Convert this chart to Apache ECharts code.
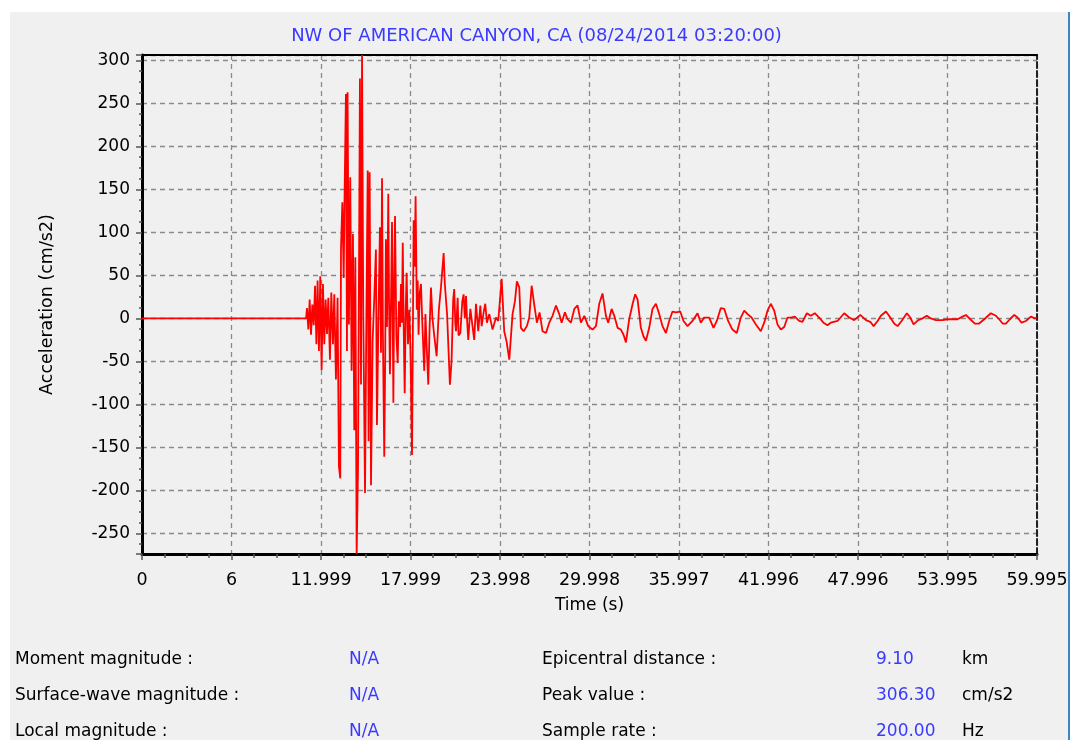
<!DOCTYPE html>
<html>
<head>
<meta charset="utf-8">
<title>NW OF AMERICAN CANYON, CA</title>
<script src="https://cdn.jsdelivr.net/npm/echarts@6/dist/echarts.min.js"></script>
<style>
  html, body { margin: 0; padding: 0; background: #fff; }
  .panel {
    position: absolute; left: 10px; top: 12px;
    width: 1058px; height: 728px;
    background: #f0f0f0;
    border-right: 2px solid #3d85c6;
  }
  #chart { position: absolute; left: 0; top: 0; width: 1073px; height: 740px; }
</style>
</head>
<body>
<div class="panel"></div>
<div id="chart"></div>
<script>
// tick labels of the time axis, as printed
const timeTickLabels = ['0', '6', '11.999', '17.999', '23.998', '29.998',
  '35.997', '41.996', '47.996', '53.995', '59.995'];

// record: pre-event + strong shaking (s, cm/s2)
const timeStrong = [0, 11.0, 11.06, 11.15, 11.24, 11.33, 11.42, 11.51, 11.60, 11.69,
  11.77, 11.86, 11.95, 12.04, 12.13, 12.22, 12.31, 12.40, 12.49, 12.60,
  12.69, 12.80, 12.89, 13.00, 13.11, 13.20, 13.29, 13.34, 13.43, 13.52,
  13.58, 13.67, 13.74, 13.78, 13.87, 13.96, 14.05, 14.14, 14.23, 14.30,
  14.39, 14.48, 14.61, 14.68, 14.75, 14.83, 14.95, 15.04, 15.13, 15.19,
  15.26, 15.35, 15.46, 15.57];
const accStrong = [0, 0, 12, -13, 22, -19, 16, -8, 38, -30,
  44, -38, 49, -60, 40, -30, 22, -18, 24, -48,
  30, -30, 28, -71, 24, -172, -186, 82, 135, 47,
  145, 261, -38, 263, -7, 164, -61, 98, -130, 71,
  -274, -174, 279, -77, 306.3, 12, -203, 1, 172, -143,
  170, -194, -26, 24];

// late S-wave part
const timeLate = [15.68, 15.75, 15.84, 15.95, 16.02, 16.09, 16.15, 16.24, 16.30, 16.35,
  16.42, 16.51, 16.56, 16.62, 16.70, 16.76, 16.85, 16.90, 16.96, 17.05,
  17.14, 17.22, 17.30, 17.36, 17.42, 17.48, 17.55, 17.61, 17.68, 17.74,
  17.83, 17.92, 18.00, 18.10, 18.21, 18.28, 18.34, 18.42, 18.48, 18.54,
  18.62, 18.70, 18.80, 18.92, 19.00, 19.10, 19.19, 19.28, 19.37, 19.47,
  19.59, 19.75, 19.90, 20.04, 20.22, 20.30, 20.45, 20.64, 20.75];
const accLate = [80, -124, -10, 106, -40, 163, -20, -161, -50, 92,
  -10, 145, 20, -65, 30, 112, -98, 30, 119, -20,
  -52, 20, -10, 40, -5, 88, -20, -87, 10, 53,
  -30, 10, -40, -159, 114, 60, 142, 10, 44, -19,
  30, 40, -10, -61, 5, -40, -77, -10, 36, 0,
  -20, -44, 10, 36, 76, 40, 5, -77, -50];

// coda
const timeCoda = [20.86, 20.93, 21.00, 21.05, 21.16, 21.22, 21.34, 21.47, 21.56, 21.64,
  21.72, 21.78, 21.87, 22.01, 22.10, 22.17, 22.27, 22.39, 22.54, 22.68,
  22.77, 22.83, 22.90, 23.01, 23.12, 23.17, 23.28, 23.39, 23.50, 23.57,
  23.73, 23.88, 24.11, 24.28, 24.44, 24.62, 24.84, 25.00, 25.13, 25.29,
  25.40, 25.58, 25.80, 25.96, 26.12, 26.30, 26.47, 26.65, 26.85, 27.08,
  27.30, 27.52, 27.75, 27.97, 28.13, 28.35, 28.53, 28.75, 28.98, 29.20,
  29.42, 29.65, 29.91, 30.20, 30.43, 30.65, 30.87, 31.10, 31.25, 31.48,
  31.66, 31.88, 32.10, 32.28, 32.44, 32.66, 32.89, 33.06, 33.22];
const accCoda = [22, 34, -5, -15, 24, -20, -17, 20, 28, 0,
  26, 1, -25, 11, 11, -11, -25, 17, -15, 15,
  -9, -9, 7, 17, -5, -3, 5, 3, -13, -13,
  1, -3, 46, -15, -27, -48, 5, 20, 43, 36,
  -11, -15, -9, 1, 38, 15, -5, 7, -15, -17,
  -5, 3, 15, 5, -5, 7, -1, -5, 11, 15,
  -5, 3, -9, -13, -9, 17, 29, 3, -5, 11,
  3, -11, -13, -19, -28, -1, 17, 28, 22];

// surface waves
const timeSurface = [33.44, 33.62, 33.78, 34.00, 34.22, 34.45, 34.67, 34.89, 35.12, 35.34,
  35.56, 35.79, 36.08, 36.30, 36.57, 36.90, 37.24, 37.46, 37.68, 38.02,
  38.31, 38.53, 38.80, 39.03, 39.29, 39.58, 39.87, 40.14, 40.37, 40.59,
  40.86, 41.15, 41.48, 41.71, 41.93, 42.15, 42.38, 42.60, 42.82, 43.05,
  43.27, 43.49, 43.76, 44.05, 44.27, 44.57, 44.83, 45.10, 45.39, 45.68,
  45.95, 46.17];
const accSurface = [-11, -21, -26, -11, 11, 17, 5, -9, -17, -3,
  8, 7, 8, -3, -9, -3, 6, -5, 1, 1,
  -11, -3, 12, 11, -3, -13, -17, 1, 9, 5,
  1, -7, -15, -5, 9, 17, 9, -7, -13, -10,
  1, 1, 2, -3, -4, 6, 3, 6, 1, -5,
  -8, -5];

// tail
const timeTail = [46.63, 47.07, 47.41, 47.74, 48.15, 48.53, 48.82, 49.04, 49.31, 49.53,
  49.87, 50.16, 50.42, 50.65, 50.92, 51.27, 51.50, 51.72, 52.03, 52.32,
  52.61, 52.88, 53.22, 53.66, 54.00, 54.33, 54.67, 55.00, 55.23, 55.52,
  55.83, 56.12, 56.46, 56.90, 57.24, 57.46, 57.69, 57.91, 58.18, 58.47,
  58.69, 58.96, 59.25, 59.58, 59.85, 59.995];
const accTail = [-3, 6, 1, -2, 4, -2, -4, -9, -3, 3,
  8, 1, -6, -9, -3, 6, 1, -7, -2, 0,
  3, 0, -2, -2, -1, -1, -1, 2, 4, -1,
  -6, -6, -1, 6, 3, -1, -6, -6, -1, 4,
  1, -5, -3, 2, 0, 1];

// station info block under the plot
const infoLeftLabels = ['Moment magnitude :', 'Surface-wave magnitude :', 'Local magnitude :'];
const infoLeftValues = ['N/A', 'N/A', 'N/A'];
const infoRightLabels = ['Epicentral distance :', 'Peak value :', 'Sample rate :'];
const infoRightValues = ['9.10', '306.30', '200.00'];
const infoRightUnits = ['km', 'cm/s2', 'Hz'];

const FONT = '"DejaVu Sans", Verdana, sans-serif';
const BLUE = '#3a3aff';

function pairs(ts, vs) {
  return ts.map((t, i) => [t, vs[i]]);
}
const record = [].concat(
  pairs(timeStrong, accStrong),
  pairs(timeLate, accLate),
  pairs(timeCoda, accCoda),
  pairs(timeSurface, accSurface),
  pairs(timeTail, accTail)
);

const rowY = [658, 694, 730];
const info = [];
rowY.forEach((y, i) => {
  const base = { font: '17px ' + FONT, verticalAlign: 'middle' };
  const top = y - 7;
  info.push({ type: 'text', left: 15, top: top, style: Object.assign({ text: infoLeftLabels[i], fill: '#000' }, base) });
  info.push({ type: 'text', left: 349, top: top, style: Object.assign({ text: infoLeftValues[i], fill: BLUE }, base) });
  info.push({ type: 'text', left: 542, top: top, style: Object.assign({ text: infoRightLabels[i], fill: '#000' }, base) });
  info.push({ type: 'text', left: 876, top: top, style: Object.assign({ text: infoRightValues[i], fill: BLUE }, base) });
  info.push({ type: 'text', left: 962, top: top, style: Object.assign({ text: infoRightUnits[i], fill: '#000' }, base) });
});

const chart = echarts.init(document.getElementById('chart'), null, { renderer: 'canvas' });

const gridLine = { show: true, lineStyle: { color: '#8a8a8a', width: 1.3, type: [5, 4] } };

chart.setOption({
  backgroundColor: 'transparent',
  animation: false,
  textStyle: { fontFamily: FONT },
  title: {
    text: 'NW OF AMERICAN CANYON, CA (08/24/2014 03:20:00)',
    left: 'center',
    top: 22,
    textStyle: { color: BLUE, fontSize: 18, fontWeight: 'normal', fontFamily: FONT }
  },
  grid: { left: 142, right: 36, top: 55, bottom: 186 },
  xAxis: [{
    type: 'value',
    min: 0,
    max: 59.995,
    interval: 5.9995,
    name: 'Time (s)',
    nameLocation: 'middle',
    nameGap: 43,
    nameTextStyle: { color: '#000', fontSize: 17, fontFamily: FONT },
    axisLine: { show: true, onZero: false, lineStyle: { color: '#000', width: 3 } },
    axisTick: { show: true, length: 6, lineStyle: { color: '#555', width: 1.5 } },
    minorTick: { show: true, splitNumber: 4, length: 4, lineStyle: { color: '#555', width: 1.5 } },
    axisLabel: {
      margin: 17,
      color: '#000',
      fontSize: 17.5,
      fontFamily: FONT,
      formatter: v => timeTickLabels[Math.round(v / 5.9995)]
    },
    splitLine: gridLine
  }, {
    type: 'value',
    position: 'top',
    min: 0,
    max: 59.995,
    axisLine: { show: true, onZero: false, lineStyle: { color: '#000', width: 2 } },
    axisTick: { show: false },
    axisLabel: { show: false },
    splitLine: { show: false }
  }],
  yAxis: [{
    type: 'value',
    min: -274,
    max: 306.3,
    splitNumber: 12,
    minInterval: 50,
    maxInterval: 50,
    name: 'Acceleration (cm/s2)',
    nameLocation: 'middle',
    nameGap: 86,
    nameTextStyle: { color: '#000', fontSize: 17.5, fontFamily: FONT },
    axisLine: { show: true, onZero: false, lineStyle: { color: '#000', width: 3 } },
    axisTick: { show: true, length: 6, lineStyle: { color: '#555', width: 1.5 } },
    minorTick: { show: true, splitNumber: 4, length: 3, lineStyle: { color: '#555', width: 1.5 } },
    axisLabel: {
      margin: 12,
      color: '#000',
      fontSize: 17,
      fontFamily: FONT,
      showMinLabel: false,
      showMaxLabel: false
    },
    splitLine: gridLine
  }, {
    type: 'value',
    position: 'right',
    min: -274,
    max: 306.3,
    axisLine: { show: true, onZero: false, lineStyle: { color: '#222', width: 2, type: [6, 3] } },
    axisTick: { show: false },
    axisLabel: { show: false },
    splitLine: { show: false }
  }],
  series: [{
    type: 'line',
    name: 'Acceleration',
    xAxisIndex: 0,
    yAxisIndex: 0,
    data: record,
    showSymbol: false,
    symbol: 'none',
    clip: true,
    lineStyle: { color: '#ff0000', width: 1.8 },
    z: 5
  }],
  graphic: info
});

window.addEventListener('resize', () => chart.resize());
</script>
</body>
</html>
